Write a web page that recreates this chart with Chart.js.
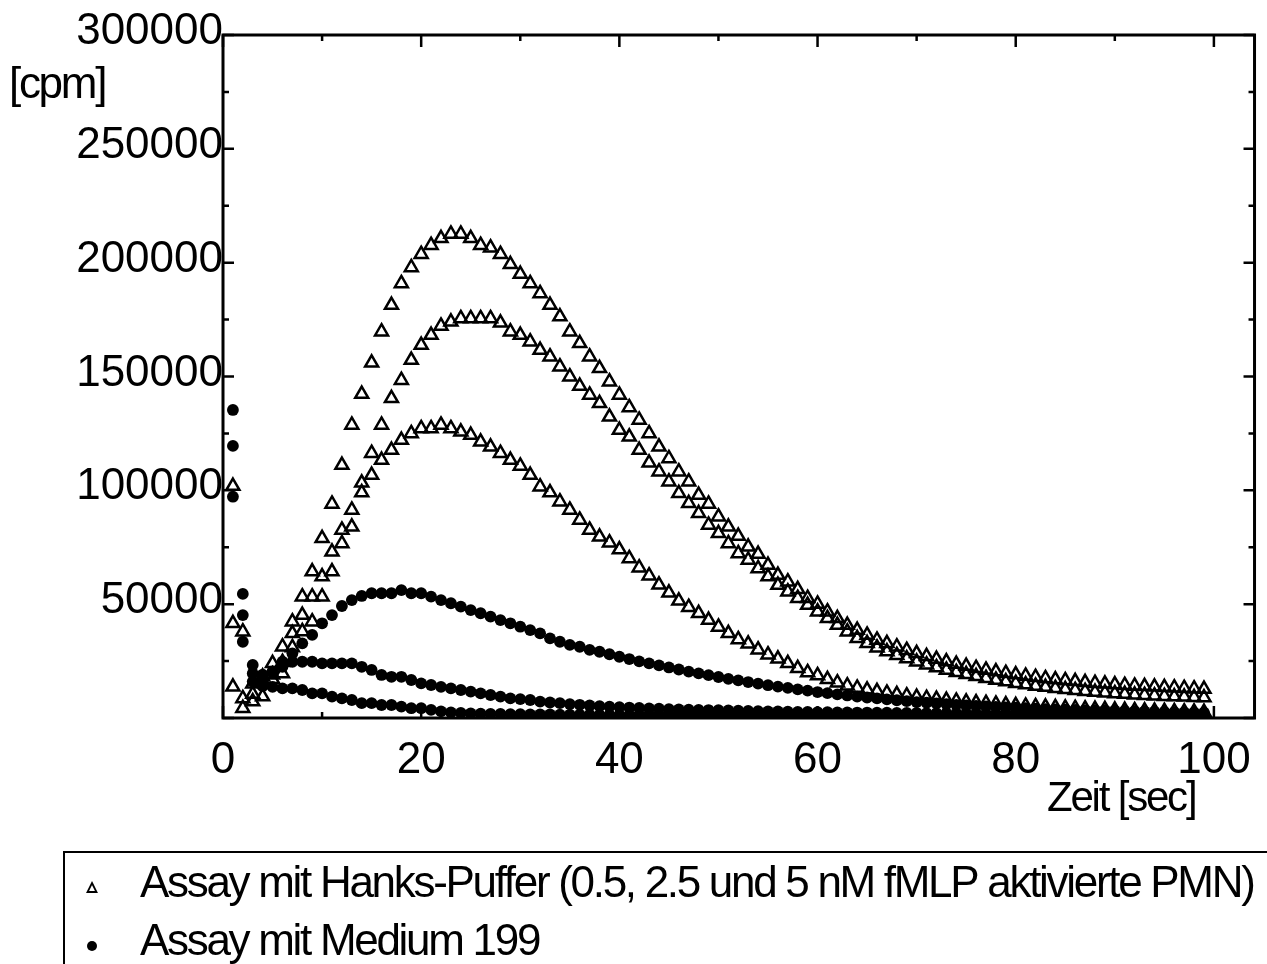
<!DOCTYPE html>
<html>
<head>
<meta charset="utf-8">
<script src="https://cdn.jsdelivr.net/npm/chart.js@4.4.1/dist/chart.umd.min.js"></script>
<style>
  html, body { margin: 0; padding: 0; background: #fff; }
  #wrap { width: 1267px; height: 964px; position: relative; }
</style>
</head>
<body>
<div id="wrap"><canvas id="myChart"></canvas></div>
<script>
// time axis (sec)
const zeit = [1, 2, 3, 4, 5, 6, 7, 8, 9, 10, 11, 12, 13, 14, 15, 16, 17, 18, 19, 20,
  21, 22, 23, 24, 25, 26, 27, 28, 29, 30, 31, 32, 33, 34, 35, 36, 37, 38, 39, 40,
  41, 42, 43, 44, 45, 46, 47, 48, 49, 50, 51, 52, 53, 54, 55, 56, 57, 58, 59, 60,
  61, 62, 63, 64, 65, 66, 67, 68, 69, 70, 71, 72, 73, 74, 75, 76, 77, 78, 79, 80,
  81, 82, 83, 84, 85, 86, 87, 88, 89, 90, 91, 92, 93, 94, 95, 96, 97, 98, 99];

// Hanks-Puffer runs (triangles) [cpm]
const hanks1 = [13700, 8600, 7200, 18100, 24000, 31300, 42300, 53300, 64300, 78900,
  94000, 111100, 128700, 142300, 156000, 169700, 181400, 190900, 197900, 203700,
  207700, 210700, 212600, 212600, 210700, 207700, 206600, 203700, 199300, 195000,
  190900, 186500, 181400, 176300, 169700, 164600, 158700, 153600, 147700, 141900,
  136400, 130900, 125000, 119100, 114000, 108200, 103800, 97900, 94000, 88400,
  84000, 79900, 75200, 72000, 67200, 62800, 59900, 56500, 52600, 50100,
  46700, 43800, 40800, 38600, 36500, 34300, 32800, 31300, 29800, 28400,
  27100, 25900, 24800, 23700, 22800, 21900, 21100, 20400, 19700, 19100,
  18500, 17900, 17400, 16900, 16500, 16100, 15700, 15300, 15000, 14700,
  14400, 14100, 13900, 13700, 13500, 13300, 13100, 12900, 12700];
const hanks2 = [41600, 4300, 10500, 9400, 17000, 19600, 37200, 45200, 53300, 62100,
  73000, 82600, 91400, 103300, 116300, 128700, 140400, 148400, 157200, 163800,
  168200, 172200, 174000, 175500, 175500, 175500, 175500, 173600, 169700, 168200,
  165300, 161600, 158700, 154300, 149900, 145800, 141900, 138200, 132300, 126500,
  123500, 117700, 112100, 108200, 103800, 98700, 94300, 89900, 84800, 81100,
  76700, 72300, 69400, 65700, 62100, 58400, 55500, 52600, 49600, 46700,
  43800, 40800, 37900, 35000, 32800, 30900, 29200, 27600, 26100, 24700,
  23400, 22200, 21100, 20100, 19200, 18300, 17500, 16700, 16000, 15300,
  14700, 14100, 13600, 13100, 12600, 12200, 11800, 11400, 11100, 10800,
  10500, 10200, 10000, 9800, 9600, 9400, 9300, 9100, 9000];
const hanks3 = [101900, 37900, 15000, 15500, 19000, 24500, 31000, 38000, 42300, 53300,
  64300, 76700, 84000, 99000, 106700, 113300, 117700, 122100, 125000, 127200,
  127200, 128700, 127200, 125700, 124300, 121300, 119100, 116300, 113300, 110700,
  106700, 101600, 99000, 95000, 91400, 87000, 82600, 79600, 77000, 74000,
  70100, 66000, 62500, 58500, 55000, 51500, 48700, 46000, 43000, 40000,
  37200, 34500, 32600, 30000, 27800, 26000, 24000, 21800, 20000, 18700,
  17000, 15500, 14200, 13200, 12400, 11700, 11000, 10400, 9800, 9200,
  8700, 8300, 7900, 7500, 7100, 6800, 6500, 6200, 5900, 5600,
  5300, 5100, 4900, 4700, 4500, 4300, 4100, 3900, 3800, 3600,
  3500, 3300, 3200, 3100, 3000, 2900, 2800, 2700, 2600];

// Medium 199 runs (dots) [cpm]
const medium1 = [135300, 54500, 23300, 19000, 20500, 24700, 28400, 32800, 36500, 41600,
  45200, 49200, 51800, 53600, 54800, 54800, 54800, 56200, 54800, 54800,
  53300, 51800, 50400, 48900, 47400, 46000, 44500, 43000, 41600, 40100,
  38600, 37200, 35000, 33500, 32100, 31300, 29900, 29100, 28000, 26900,
  25900, 24900, 24000, 23100, 22200, 21300, 20400, 19600, 18800, 18000,
  17200, 16500, 15800, 15100, 14400, 13800, 13200, 12600, 12000, 11400,
  10900, 10400, 9900, 9400, 9000, 8600, 8200, 7800, 7400, 7000,
  6700, 6400, 6100, 5800, 5500, 5300, 5100, 4900, 4700, 4500,
  4300, 4100, 3900, 3800, 3700, 3600, 3500, 3400, 3300, 3200,
  3100, 3000, 2900, 2800, 2700, 2600, 2500, 2400, 2300];
const medium2 = [119500, 45200, 19600, 17000, 20000, 22500, 24700, 24700, 24700, 24000,
  24000, 24000, 24000, 22500, 21100, 18900, 18100, 18100, 16700, 15200,
  14500, 13700, 13000, 12300, 11600, 10800, 10100, 9400, 8600, 8300,
  7900, 7200, 6800, 6500, 6100, 5800, 5500, 5200, 5000, 4800,
  4600, 4400, 4200, 4100, 3900, 3800, 3700, 3600, 3500, 3400,
  3300, 3200, 3100, 3000, 2900, 2900, 2800, 2700, 2700, 2600,
  2600, 2500, 2500, 2400, 2400, 2300, 2300, 2200, 2200, 2200,
  2100, 2100, 2100, 2000, 2000, 2000, 1900, 1900, 1900, 1900,
  1800, 1800, 1800, 1800, 1700, 1700, 1700, 1700, 1700, 1600,
  1600, 1600, 1600, 1600, 1600, 1500, 1500, 1500, 1500];
const medium3 = [97200, 33500, 16000, 14000, 13700, 13000, 13000, 12300, 10800, 10800,
  9400, 8600, 7900, 6500, 6500, 5700, 5700, 5000, 4300, 4300,
  3600, 2900, 2500, 2200, 2000, 1900, 1800, 1800, 1700, 1700,
  1600, 1600, 1600, 1500, 1500, 1500, 1500, 1400, 1400, 1400,
  1400, 1400, 1300, 1300, 1300, 1300, 1300, 1300, 1200, 1200,
  1200, 1200, 1200, 1200, 1200, 1100, 1100, 1100, 1100, 1100,
  1100, 1100, 1100, 1000, 1000, 1000, 1000, 1000, 1000, 1000,
  1000, 1000, 1000, 1000, 900, 900, 900, 900, 900, 900,
  900, 900, 900, 900, 900, 900, 900, 900, 900, 800,
  800, 800, 800, 800, 800, 800, 800, 800, 800];

// axis ticks and texts
const xMajor = [0, 20, 40, 60, 80, 100];
const xMinor = [10, 30, 50, 70, 90];
const yMajor = [0, 50000, 100000, 150000, 200000, 250000, 300000];
const yMinor = [25000, 75000, 125000, 175000, 225000, 275000];
const xTitle = 'Zeit [sec]';
const yTitle = '[cpm]';
const legendLabels = ['Assay mit Hanks-Puffer (0.5, 2.5 und 5 nM fMLP aktivierte PMN)', 'Assay mit Medium 199'];

const FONT = '"Liberation Sans", Arial, Helvetica, sans-serif';

function pts(arr) {
  return zeit.map((t, i) => ({ x: t, y: arr[i] }));
}

function spacedText(ctx, text, x, y, spacing) {
  if ('letterSpacing' in ctx) {
    ctx.letterSpacing = spacing + 'px';
    ctx.fillText(text, x, y);
    ctx.letterSpacing = '0px';
  } else {
    const w = ctx.measureText(text).width;
    const target = w + spacing * text.length;
    ctx.save();
    ctx.translate(x, y);
    ctx.scale(target / w, 1);
    ctx.fillText(text, 0, 0);
    ctx.restore();
  }
}

// box, inward ticks on all four sides, axis titles and the framed legend
const framePlugin = {
  id: 'framePlugin',
  afterDraw(chart) {
    const ctx = chart.ctx;
    const a = chart.chartArea;
    const xs = chart.scales.x;
    const ys = chart.scales.y;
    ctx.save();
    ctx.strokeStyle = '#000';
    ctx.lineWidth = 3;
    ctx.strokeRect(a.left, a.top, a.right - a.left, a.bottom - a.top);

    ctx.lineWidth = 2.5;
    ctx.beginPath();
    const xTick = (v, len) => {
      const px = xs.getPixelForValue(v);
      ctx.moveTo(px, a.bottom); ctx.lineTo(px, a.bottom - len);
      ctx.moveTo(px, a.top); ctx.lineTo(px, a.top + len);
    };
    const yTick = (v, len) => {
      const py = ys.getPixelForValue(v);
      ctx.moveTo(a.left, py); ctx.lineTo(a.left + len, py);
      ctx.moveTo(a.right, py); ctx.lineTo(a.right - len, py);
    };
    xMajor.forEach(v => xTick(v, 12));
    xMinor.forEach(v => xTick(v, 6));
    yMajor.forEach(v => yTick(v, 11));
    yMinor.forEach(v => yTick(v, 6));
    ctx.stroke();

    // axis titles
    ctx.fillStyle = '#000';
    ctx.textBaseline = 'alphabetic';
    ctx.textAlign = 'left';
    ctx.font = '42px ' + FONT;
    spacedText(ctx, xTitle, 1047, 811, -2.2);
    ctx.font = '44px ' + FONT;
    spacedText(ctx, yTitle, 9, 98, -2.3);

    // legend box
    ctx.lineWidth = 2;
    ctx.strokeRect(64, 852, 1300, 200);
    // triangle marker
    ctx.lineWidth = 1.8;
    ctx.beginPath();
    ctx.moveTo(92, 883);
    ctx.lineTo(96.5, 892);
    ctx.lineTo(87.5, 892);
    ctx.closePath();
    ctx.stroke();
    // dot marker
    ctx.beginPath();
    ctx.arc(92, 946, 5, 0, Math.PI * 2);
    ctx.fill();
    ctx.font = '44px ' + FONT;
    spacedText(ctx, legendLabels[0], 140, 897, -2.3);
    spacedText(ctx, legendLabels[1], 140, 955, -2.3);
    ctx.restore();
  }
};

const triangleSet = (data) => ({
  data: pts(data),
  showLine: false,
  pointStyle: 'triangle',
  pointRadius: 7.5,
  pointBorderWidth: 2.5,
  pointBorderColor: '#000',
  pointBackgroundColor: 'rgba(0,0,0,0)'
});
const dotSet = (data) => ({
  data: pts(data),
  showLine: false,
  pointStyle: 'circle',
  pointRadius: 5.9,
  pointBorderWidth: 0,
  pointBorderColor: '#000',
  pointBackgroundColor: '#000'
});

const ctx = document.getElementById('myChart');

new Chart(ctx, {
  type: 'scatter',
  data: {
    datasets: [
      triangleSet(hanks1), triangleSet(hanks2), triangleSet(hanks3),
      dotSet(medium1), dotSet(medium2), dotSet(medium3)
    ]
  },
  options: {
    responsive: true,
    maintainAspectRatio: false,
    animation: false,
    layout: { padding: { top: 35, right: 9, left: 0, bottom: 0 } },
    plugins: { legend: { display: false }, tooltip: { enabled: false } },
    scales: {
      x: {
        type: 'linear',
        min: 0,
        max: 104.1,
        grid: { display: false, drawTicks: false },
        border: { display: false },
        afterBuildTicks: (s) => {
          s.ticks = xMajor.concat(xMinor).sort((p, q) => p - q).map(v => ({ value: v }));
        },
        afterFit: (s) => { s.height = 246; },
        ticks: {
          autoSkip: false,
          maxRotation: 0,
          padding: 16,
          color: '#000',
          font: { family: FONT, size: 44 },
          callback: (v) => (xMajor.includes(v) ? String(v) : '')
        }
      },
      y: {
        type: 'linear',
        min: 0,
        max: 300000,
        grid: { display: false, drawTicks: false },
        border: { display: false },
        afterBuildTicks: (s) => {
          s.ticks = yMajor.concat(yMinor).sort((p, q) => p - q).map(v => ({ value: v }));
        },
        afterFit: (s) => { s.width = 223; },
        ticks: {
          autoSkip: false,
          padding: 0,
          labelOffset: -3,
          color: '#000',
          font: { family: FONT, size: 44 },
          callback: (v) => (v > 0 && yMajor.includes(v) ? String(v) : '')
        }
      }
    }
  },
  plugins: [framePlugin]
});
</script>
</body>
</html>
